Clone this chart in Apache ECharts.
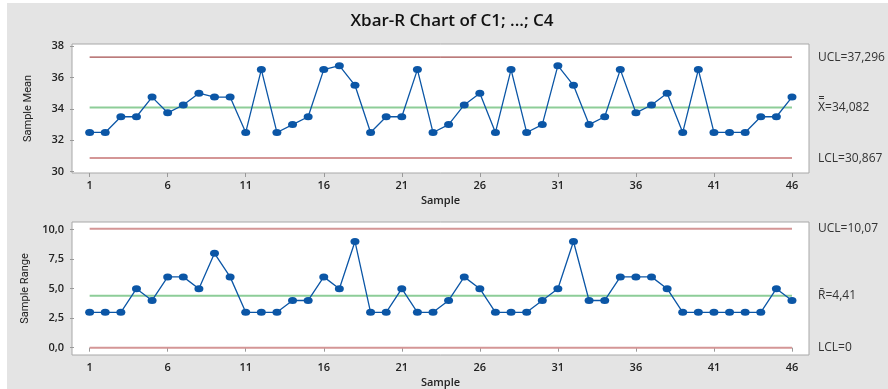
<!DOCTYPE html>
<html>
<head>
<meta charset="utf-8">
<script src="https://cdn.jsdelivr.net/npm/echarts@6/dist/echarts.min.js"></script>
<style>
  html, body { margin: 0; padding: 0; background: #fff; }
  #chart { width: 888px; height: 389px; }
</style>
</head>
<body>
<div id="chart"></div>
<script>
// sample means (Xbar) for samples 1..46
const sampleMean = [
  32.5, 32.5, 33.5, 33.5, 34.75, 33.75, 34.25, 35, 34.75, 34.75,
  32.5, 36.5, 32.5, 33, 33.5, 36.5, 36.75, 35.5, 32.5, 33.5,
  33.5, 36.5, 32.5, 33, 34.25, 35, 32.5, 36.5, 32.5, 33,
  36.75, 35.5, 33, 33.5, 36.5, 33.75, 34.25, 35, 32.5, 36.5,
  32.5, 32.5, 32.5, 33.5, 33.5, 34.75
];
// sample ranges
const sampleRange = [
  3, 3, 3, 5, 4, 6, 6, 5, 8, 6,
  3, 3, 3, 4, 4, 6, 5, 9, 3, 3,
  5, 3, 3, 4, 6, 5, 3, 3, 3, 4,
  5, 9, 4, 4, 6, 6, 6, 5, 3, 3,
  3, 3, 3, 3, 5, 4
];
const xbarLimits = { ucl: 37.296, center: 34.082, lcl: 30.867 };
const rLimits = { ucl: 10.07, center: 4.41, lcl: 0 };

const xTicks = [1, 6, 11, 16, 21, 26, 31, 36, 41, 46];
const meanTicks = [30, 32, 34, 36, 38];
const rangeTicks = [0, 2.5, 5, 7.5, 10];

const comma = (v, d) => v.toFixed(d).replace('.', ',');

const chart = echarts.init(document.getElementById('chart'));

const font = 'Open Sans, Noto Sans, sans-serif';
const blue = '#0b56a6';
const green = '#8dcd98';
const darkRed = '#8e2222';
const pink = '#d49696';

function xAxis(gridIndex) {
  return {
    type: 'value',
    gridIndex: gridIndex,
    min: -0.13,
    max: 47.09,
    name: 'Sample',
    nameLocation: 'middle',
    nameGap: 22,
    nameTextStyle: { fontFamily: font, fontSize: 11, fontWeight: 600, color: '#222' },
    axisLine: { show: false },
    axisTick: { show: true, customValues: xTicks, length: 4, lineStyle: { color: '#999' } },
    axisLabel: {
      customValues: xTicks, margin: 7,
      fontFamily: font, fontSize: 11, fontWeight: 600, color: '#222'
    },
    splitLine: { show: false }
  };
}

function yAxis(gridIndex, min, max, ticks, name, fmt, gap) {
  return {
    type: 'value',
    gridIndex: gridIndex,
    min: min,
    max: max,
    name: name,
    nameLocation: 'middle',
    nameGap: gap,
    nameTextStyle: { fontFamily: 'Liberation Sans Narrow, Roboto, sans-serif', fontSize: 11, color: '#222' },
    axisLine: { show: false },
    axisTick: { show: true, customValues: ticks, length: 4, lineStyle: { color: '#999' } },
    axisLabel: {
      customValues: ticks, margin: 8, formatter: fmt,
      fontFamily: font, fontSize: 11, fontWeight: 600, color: '#222'
    },
    splitLine: { show: false }
  };
}

function limitLine(idx, value, color, width, text) {
  return {
    type: 'line',
    xAxisIndex: idx,
    yAxisIndex: idx,
    symbol: 'circle',
    symbolSize: 0.1,
    silent: true,
    itemStyle: { color: 'rgba(0,0,0,0)' },
    lineStyle: { color: color, width: width },
    data: [
      [1, value],
      {
        value: [46, value],
        label: {
          show: true, position: 'right', distance: 26,
          formatter: text,
          fontFamily: font, fontSize: 12, color: '#333'
        }
      }
    ],
    z: 1
  };
}

function dataLine(idx, values) {
  return {
    type: 'line',
    xAxisIndex: idx,
    yAxisIndex: idx,
    data: values.map((v, i) => [i + 1, v]),
    symbol: 'circle',
    symbolSize: [9, 7],
    itemStyle: { color: blue },
    lineStyle: { color: blue, width: 1.3 },
    z: 3
  };
}

chart.setOption({
  animation: false,
  backgroundColor: '#fff',
  graphic: [{
    type: 'rect', left: 7, top: 3, z: -10,
    shape: { width: 881, height: 386 },
    style: { fill: '#e4e4e4' }
  }],
  title: {
    text: 'Xbar-R Chart of C1; ...; C4',
    left: 447, top: 8, textAlign: 'center',
    textStyle: { fontFamily: font, fontSize: 17, fontWeight: 600, color: '#111' }
  },
  grid: [
    { left: 72, right: 79, top: 44, height: 129, show: true, backgroundColor: '#fff', borderColor: '#a8a8a8', borderWidth: 1 },
    { left: 72, right: 79, top: 222, height: 133, show: true, backgroundColor: '#fff', borderColor: '#a8a8a8', borderWidth: 1 }
  ],
  xAxis: [xAxis(0), xAxis(1)],
  yAxis: [
    yAxis(0, 29.92, 38.13, meanTicks, 'Sample Mean', v => String(v), 38),
    yAxis(1, -0.62, 10.65, rangeTicks, 'Sample Range', v => comma(v, 1), 40)
  ],
  series: [
    limitLine(0, xbarLimits.ucl, darkRed, 1, 'UCL=' + comma(xbarLimits.ucl, 3)),
    limitLine(0, xbarLimits.center, green, 2, 'X\u033F=' + comma(xbarLimits.center, 3)),
    limitLine(0, xbarLimits.lcl, pink, 2, 'LCL=' + comma(xbarLimits.lcl, 3)),
    dataLine(0, sampleMean),
    limitLine(1, rLimits.ucl, pink, 2, 'UCL=' + comma(rLimits.ucl, 2)),
    limitLine(1, rLimits.center, green, 2, 'R\u0304=' + comma(rLimits.center, 2)),
    limitLine(1, rLimits.lcl, pink, 2, 'LCL=' + rLimits.lcl),
    dataLine(1, sampleRange)
  ]
});
</script>
</body>
</html>
